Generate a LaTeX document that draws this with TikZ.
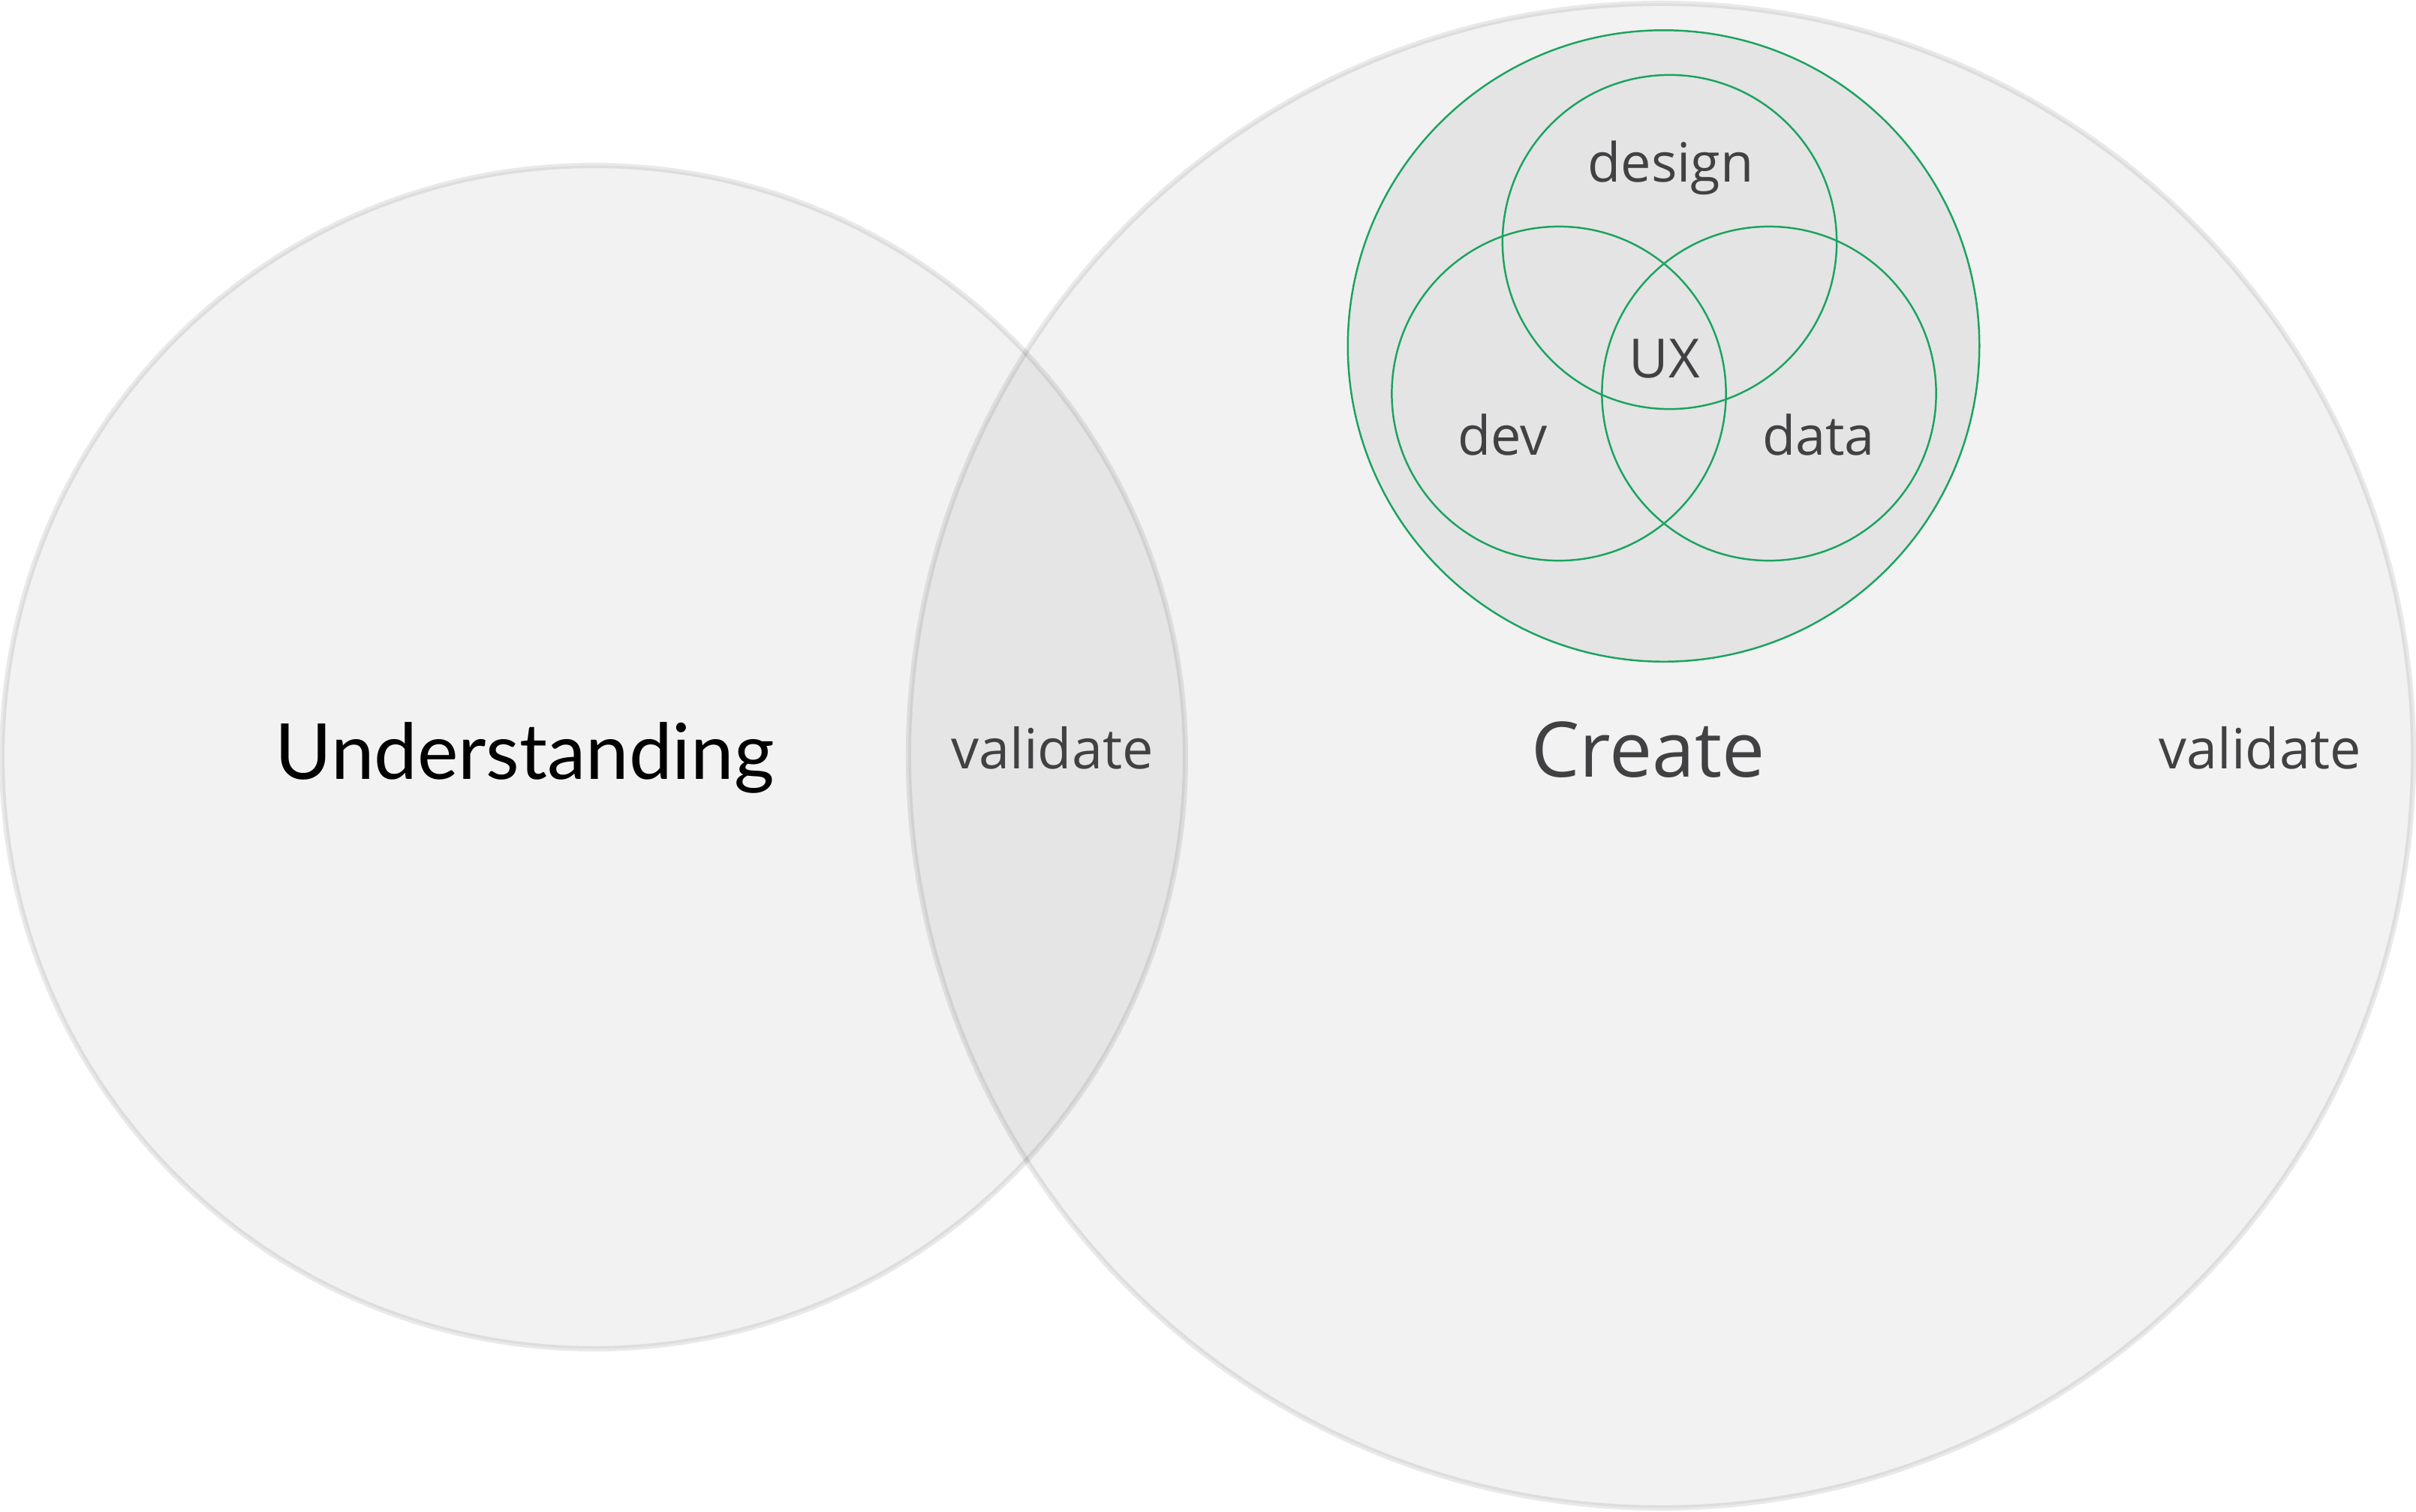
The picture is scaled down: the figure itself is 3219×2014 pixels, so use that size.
\documentclass[tikz,border=0pt]{standalone}
\usepackage{fontspec}
\setmainfont{Open Sans}
\newfontfamily\undfont{Lato}
\definecolor{txt}{HTML}{414143}
\definecolor{grn}{HTML}{1BA35F}
\tikzset{
  bigc/.style={circle, inner sep=0pt, outer sep=0pt, fill=black, fill opacity=0.05, draw=black, draw opacity=0.085, line width=2pt},
  grc/.style={circle, inner sep=0pt, outer sep=0pt, draw=grn, line width=0.7pt},
  lbl/.style={anchor=base, inner sep=0pt, text=txt, text opacity=1},
}
\begin{document}
\begin{tikzpicture}[x=0.01cm,y=-0.01cm]
\fill[white] (0,0) rectangle (3219,2014);
\useasboundingbox (0,0) rectangle (3219,2014);
\node[bigc, minimum size=15.76cm] (und) at (791,1009) {};
\node[bigc, minimum size=20.04cm] (cre) at (2213,1007) {};
\node[grc, fill=black, fill opacity=0.055, minimum size=8.41cm] (team) at (2216.5,461) {};
\node[grc, minimum size=4.45cm] (design) at (2224.5,322.5) {};
\node[grc, minimum size=4.45cm] (dev) at (2077,524.5) {};
\node[grc, minimum size=4.45cm] (data) at (2357,524.5) {};
\node[anchor=base, inner sep=0pt, text=black, font=\undfont\fontsize{29.3}{32}\selectfont] (tund) at (699,1038) {Understanding};
\node[lbl, font=\fontsize{21}{24}\selectfont] (val1) at (1402,1024) {validate};
\node[lbl, font=\fontsize{29}{32}\selectfont] (tcre) at (2196,1035) {Create};
\node[lbl, font=\fontsize{21}{24}\selectfont] (val2) at (3011,1024) {validate};
\node[lbl, font=\fontsize{20.5}{24}\selectfont] (tdesign) at (2226,242) {design};
\node[lbl, font=\fontsize{20.5}{24}\selectfont] (tux) at (2218,503) {UX};
\node[lbl, font=\fontsize{20.5}{24}\selectfont] (tdev) at (2002,606) {dev};
\node[lbl, font=\fontsize{20.5}{24}\selectfont] (tdata) at (2423,606) {data};
\end{tikzpicture}
\end{document}
